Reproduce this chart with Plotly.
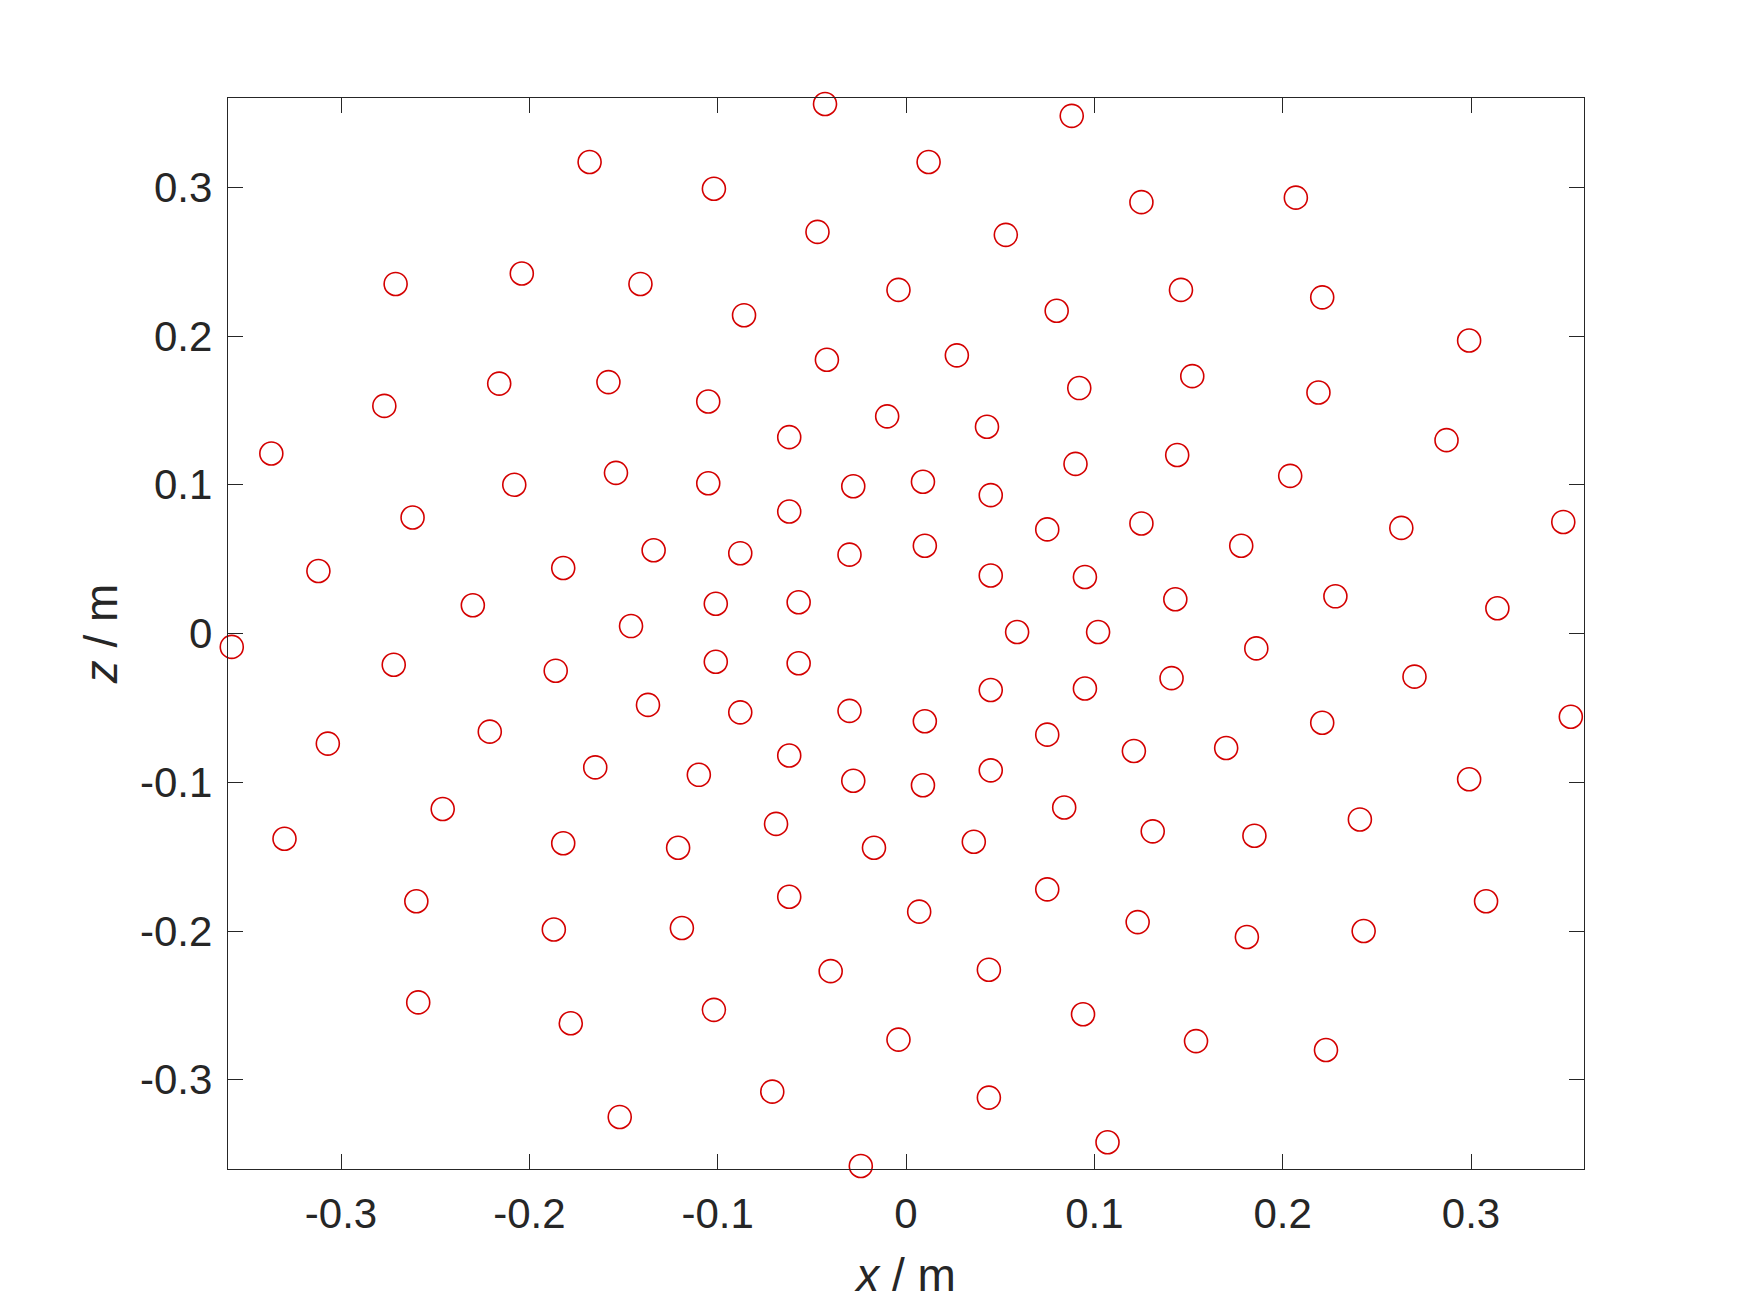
import plotly.graph_objects as go

# Point coordinates (m)
x_vals = [
    -0.043, 0.088, -0.168, 0.012, -0.102, 0.207, 0.125, -0.047, 0.053, -0.271,
    -0.204, -0.141, -0.004, 0.146, 0.221, -0.086, 0.080, 0.299, 0.027, -0.042,
    0.152, -0.216, -0.158, 0.092, 0.219, -0.105, -0.277, -0.010, 0.043, -0.062,
    0.287, -0.337, 0.144, 0.090, 0.204, -0.154, -0.028, 0.009, -0.105, -0.208,
    0.045, -0.062, -0.262, 0.349, 0.125, 0.075, 0.263, 0.010, 0.178, -0.134,
    -0.088, -0.030, -0.182, -0.312, 0.045, 0.095, 0.143, 0.228, -0.230, -0.101,
    -0.057, 0.314, -0.146, 0.059, 0.102, -0.358, 0.186, -0.272, -0.101, -0.057,
    -0.186, 0.270, 0.141, 0.045, 0.095, -0.137, -0.030, -0.088, 0.353, 0.010,
    0.221, -0.221, 0.075, -0.307, 0.170, 0.121, -0.062, -0.165, 0.045, -0.110,
    0.299, -0.028, 0.009, -0.246, 0.084, 0.241, -0.069, 0.131, 0.185, -0.330,
    -0.182, 0.036, -0.121, -0.017, 0.075, -0.062, -0.260, 0.308, 0.007, 0.123,
    -0.119, -0.187, 0.243, 0.181, 0.044, -0.040, -0.259, -0.102, 0.094, -0.178,
    -0.004, 0.154, 0.223, -0.071, 0.044, -0.152, 0.107, -0.024,
]
z_vals = [
    0.356, 0.348, 0.317, 0.317, 0.299, 0.293, 0.290, 0.270, 0.268, 0.235,
    0.242, 0.235, 0.231, 0.231, 0.226, 0.214, 0.217, 0.197, 0.187, 0.184,
    0.173, 0.168, 0.169, 0.165, 0.162, 0.156, 0.153, 0.146, 0.139, 0.132,
    0.130, 0.121, 0.120, 0.114, 0.106, 0.108, 0.099, 0.102, 0.101, 0.100,
    0.093, 0.082, 0.078, 0.075, 0.074, 0.070, 0.071, 0.059, 0.059, 0.056,
    0.054, 0.053, 0.044, 0.042, 0.039, 0.038, 0.023, 0.025, 0.019, 0.020,
    0.021, 0.017, 0.005, 0.001, 0.001, -0.009, -0.010, -0.021, -0.019, -0.020,
    -0.025, -0.029, -0.030, -0.038, -0.037, -0.048, -0.052, -0.053, -0.056, -0.059,
    -0.060, -0.066, -0.068, -0.074, -0.077, -0.079, -0.082, -0.090, -0.092, -0.095,
    -0.098, -0.099, -0.102, -0.118, -0.117, -0.125, -0.128, -0.133, -0.136, -0.138,
    -0.141, -0.140, -0.144, -0.144, -0.172, -0.177, -0.180, -0.180, -0.187, -0.194,
    -0.198, -0.199, -0.200, -0.204, -0.226, -0.227, -0.248, -0.253, -0.256, -0.262,
    -0.273, -0.274, -0.280, -0.308, -0.312, -0.325, -0.342, -0.358,
]

tick_vals = [-0.3, -0.2, -0.1, 0, 0.1, 0.2, 0.3]
tick_text = ["-0.3", "-0.2", "-0.1", "0", "0.1", "0.2", "0.3"]

axis_color = "#262626"
font_family = "Liberation Sans, Arial, sans-serif"

fig = go.Figure()
fig.add_trace(go.Scatter(
    x=x_vals, y=z_vals, mode="markers",
    marker=dict(symbol="circle-open", size=23, color="#d40000",
                line=dict(width=1.6, color="#d40000")),
    cliponaxis=False,
    showlegend=False,
))

common = dict(
    tickvals=tick_vals, ticktext=tick_text,
    showline=True, linecolor=axis_color, linewidth=1.4,
    mirror="ticks", ticks="inside", ticklen=15, tickwidth=1.4,
    tickcolor=axis_color, showgrid=False, zeroline=False,
    tickfont=dict(family=font_family, size=42, color=axis_color),
)

fig.update_xaxes(
    range=[-0.36, 0.36], **common, ticklabelstandoff=7,
    title=dict(text="<i>x</i> / m", standoff=23,
               font=dict(family=font_family, size=46, color=axis_color)),
)
fig.update_yaxes(
    range=[-0.36, 0.36], **common, ticklabelstandoff=6,
    title=dict(text="<i>z</i> / m", standoff=7,
               font=dict(family=font_family, size=46, color=axis_color)),
)

fig.update_layout(
    width=1750, height=1313,
    margin=dict(l=220, r=174, t=90, b=152, autoexpand=False),
    paper_bgcolor="white", plot_bgcolor="white",
)

fig.write_html("out.html")
